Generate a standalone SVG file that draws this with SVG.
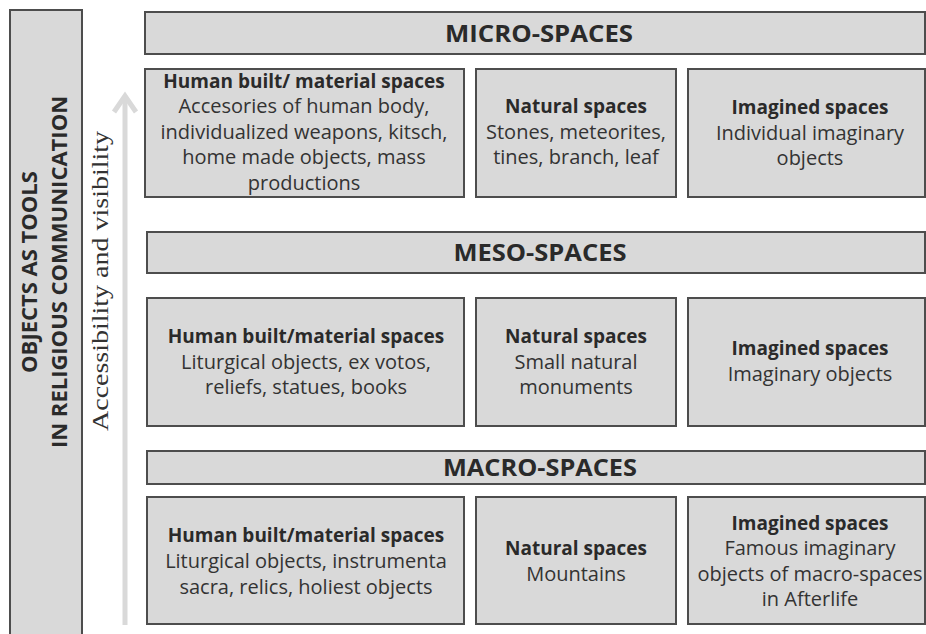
<svg xmlns="http://www.w3.org/2000/svg" width="926" height="634" viewBox="0 0 926 634">
<style>
.box{fill:#d9d9d9;stroke:#4d4d4d;stroke-width:2}
.hd{font-family:"Open Sans","Noto Sans",sans-serif;font-weight:bold;font-size:23px;fill:#2a2a2a;text-anchor:middle}
.sb{font-family:"Open Sans","Noto Sans",sans-serif;font-weight:bold;font-size:19px;fill:#2a2a2a;text-anchor:middle}
.tx{font-family:"Open Sans","Noto Sans",sans-serif;font-size:20px;fill:#333;text-anchor:middle}
.vt{font-family:"Open Sans","Noto Sans",sans-serif;font-weight:bold;font-size:22px;fill:#2a2a2a;text-anchor:middle}
.ax{font-family:"Liberation Serif","Times New Roman",serif;font-size:24px;fill:#333;text-anchor:middle}
</style>
<rect width="926" height="634" fill="#fff"/>
<g id="title">
<rect class="box" x="10" y="10" width="72" height="640"/>
<text class="vt" transform="translate(37,272) rotate(-90)">OBJECTS AS TOOLS</text>
<text class="vt" transform="translate(67,272) rotate(-90)">IN RELIGIOUS COMMUNICATION</text>
</g>
<g id="connectors">
<line x1="125" y1="97" x2="125" y2="625" stroke="#d9d9d9" stroke-width="5"/>
<polyline points="114,112 125,96 136,112" fill="none" stroke="#d9d9d9" stroke-width="5"/>
</g>
<g id="axis-label">
<text class="ax" transform="translate(108,281) rotate(-90)" textLength="300" lengthAdjust="spacingAndGlyphs">Accessibility and visibility</text>
</g>
<g id="micro-header">
<rect class="box" x="145" y="12" width="780" height="42"/>
<text class="hd" x="539" y="42" textLength="188" lengthAdjust="spacingAndGlyphs">MICRO-SPACES</text>
</g>
<g id="micro-human">
<rect class="box" x="145" y="69" width="319" height="128"/>
<text class="sb" x="304" y="88">Human built/ material spaces</text>
<text class="tx" x="304" y="113">Accesories of human body,</text>
<text class="tx" x="304" y="138.5">individualized weapons, kitsch,</text>
<text class="tx" x="304" y="164">home made objects, mass</text>
<text class="tx" x="304" y="189.5">productions</text>
</g>
<g id="micro-natural">
<rect class="box" x="476" y="69" width="200" height="128"/>
<text class="sb" x="576" y="113">Natural spaces</text>
<text class="tx" x="576" y="138.5">Stones, meteorites,</text>
<text class="tx" x="576" y="164">tines, branch, leaf</text>
</g>
<g id="micro-imagined">
<rect class="box" x="688" y="69" width="237" height="128"/>
<text class="sb" x="810" y="114">Imagined spaces</text>
<text class="tx" x="810" y="139.5">Individual imaginary</text>
<text class="tx" x="810" y="165">objects</text>
</g>
<g id="meso-header">
<rect class="box" x="147" y="232" width="778" height="41"/>
<text class="hd" x="540" y="261" textLength="173" lengthAdjust="spacingAndGlyphs">MESO-SPACES</text>
</g>
<g id="meso-human">
<rect class="box" x="147" y="298" width="317" height="128"/>
<text class="sb" x="306" y="343">Human built/material spaces</text>
<text class="tx" x="306" y="368.5">Liturgical objects, ex votos,</text>
<text class="tx" x="306" y="394">reliefs, statues, books</text>
</g>
<g id="meso-natural">
<rect class="box" x="476" y="298" width="200" height="128"/>
<text class="sb" x="576" y="343">Natural spaces</text>
<text class="tx" x="576" y="368.5">Small natural</text>
<text class="tx" x="576" y="394">monuments</text>
</g>
<g id="meso-imagined">
<rect class="box" x="688" y="298" width="237" height="128"/>
<text class="sb" x="810" y="355">Imagined spaces</text>
<text class="tx" x="810" y="381">Imaginary objects</text>
</g>
<g id="macro-header">
<rect class="box" x="147" y="451" width="778" height="33"/>
<text class="hd" x="540" y="476" textLength="194" lengthAdjust="spacingAndGlyphs">MACRO-SPACES</text>
</g>
<g id="macro-human">
<rect class="box" x="147" y="497" width="317" height="127"/>
<text class="sb" x="306" y="542">Human built/material spaces</text>
<text class="tx" x="306" y="568">Liturgical objects, instrumenta</text>
<text class="tx" x="306" y="593.5">sacra, relics, holiest objects</text>
</g>
<g id="macro-natural">
<rect class="box" x="476" y="497" width="200" height="127"/>
<text class="sb" x="576" y="555">Natural spaces</text>
<text class="tx" x="576" y="580.5">Mountains</text>
</g>
<g id="macro-imagined">
<rect class="box" x="688" y="497" width="237" height="127"/>
<text class="sb" x="810" y="530">Imagined spaces</text>
<text class="tx" x="810" y="555">Famous imaginary</text>
<text class="tx" x="810" y="580.5">objects of macro-spaces</text>
<text class="tx" x="810" y="606">in Afterlife</text>
</g>
</svg>
